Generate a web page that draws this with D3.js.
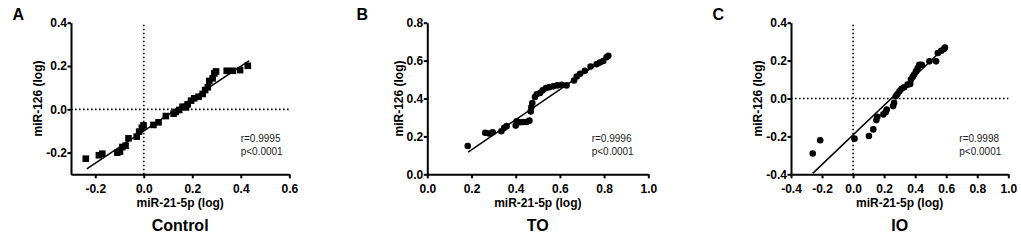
<!DOCTYPE html>
<html>
<head>
<meta charset="utf-8">
<script src="https://cdn.jsdelivr.net/npm/d3@7"></script>
<style>
  body { margin: 0; background: #fff; }
  text { font-family: Arial, "Liberation Sans", sans-serif; }
</style>
</head>
<body>
<div id="chart"></div>
<script>
/* DATA */
// Control (squares)
const controlX = [-0.239, -0.185, -0.171, -0.109, -0.098, -0.088, -0.075, -0.063, -0.029, -0.019, -0.008, -0.001,
  0.040, 0.061, 0.091, 0.123, 0.132, 0.146, 0.160, 0.174, 0.181, 0.195, 0.208, 0.226, 0.243, 0.253, 0.264,
  0.270, 0.284, 0.291, 0.298, 0.342, 0.367, 0.397, 0.429];
const controlY = [-0.228, -0.212, -0.205, -0.200, -0.195, -0.174, -0.168, -0.134, -0.126, -0.103, -0.085, -0.074,
  -0.072, -0.060, -0.031, -0.020, -0.012, -0.003, 0.012, 0.009, 0.023, 0.040, 0.051, 0.058, 0.071, 0.089, 0.102,
  0.131, 0.143, 0.166, 0.175, 0.178, 0.178, 0.181, 0.201];
const controlFit = [[-0.235, -0.275], [0.435, 0.225]];

// TO (circles)
const toX = [0.183, 0.262, 0.279, 0.296, 0.335, 0.348, 0.359, 0.400, 0.404, 0.419, 0.434, 0.449, 0.462, 0.468,
  0.471, 0.475, 0.487, 0.495, 0.510, 0.522, 0.537, 0.552, 0.570, 0.588, 0.608, 0.630, 0.664, 0.676, 0.691,
  0.713, 0.739, 0.766, 0.781, 0.796, 0.811, 0.819];
const toY = [0.149, 0.219, 0.215, 0.222, 0.227, 0.245, 0.254, 0.257, 0.280, 0.275, 0.276, 0.276, 0.283, 0.332,
  0.355, 0.376, 0.408, 0.422, 0.429, 0.443, 0.455, 0.460, 0.464, 0.469, 0.472, 0.469, 0.495, 0.516, 0.530,
  0.546, 0.569, 0.581, 0.590, 0.598, 0.618, 0.625];
const toFit = [[0.185, 0.117], [0.824, 0.626]];

// IO (circles)
const ioX = [-0.260, -0.212, 0.009, 0.102, 0.130, 0.150, 0.156, 0.195, 0.210, 0.217, 0.258, 0.264, 0.275, 0.286,
  0.299, 0.312, 0.329, 0.351, 0.368, 0.373, 0.384, 0.394, 0.405, 0.416, 0.427, 0.442, 0.492, 0.535, 0.546,
  0.568, 0.585, 0.592];
const ioY = [-0.290, -0.220, -0.212, -0.198, -0.163, -0.114, -0.096, -0.084, -0.072, -0.058, -0.040, -0.023,
  0.012, 0.024, 0.038, 0.051, 0.059, 0.073, 0.077, 0.100, 0.114, 0.126, 0.143, 0.161, 0.178, 0.178, 0.196,
  0.196, 0.240, 0.252, 0.261, 0.269];
const ioFit = [[-0.26, -0.395], [0.56, 0.245]];

// axes
const controlXTicks = [-0.2, 0, 0.2, 0.4, 0.6];
const controlYTicks = [-0.2, 0, 0.2, 0.4];
const toXTicks = [0, 0.2, 0.4, 0.6, 0.8, 1.0];
const toYTicks = [0, 0.2, 0.4, 0.6, 0.8];
const ioXTicks = [-0.4, -0.2, 0, 0.2, 0.4, 0.6, 0.8, 1.0];
const ioYTicks = [-0.4, -0.2, 0, 0.2, 0.4];

const panelLetters = ["A", "B", "C"];
const groupNames = ["Control", "TO", "IO"];
const rValues = ["r=0.9995", "r=0.9996", "r=0.9998"];
const pValues = ["p<0.0001", "p<0.0001", "p<0.0001"];
const xTitle = "miR-21-5p (log)";
const yTitle = "miR-126 (log)";

/* LAYOUT */
const width = 1021, height = 240;
const plotTop = 22.7, plotBottom = 174.3;

const panels = [
  { x: controlX, y: controlY, fit: controlFit, xDomain: [-0.3, 0.6], yDomain: [-0.3, 0.4],
    xTicks: controlXTicks, yTicks: controlYTicks, left: 71, right: 289.3, shape: "square",
    letterX: 12.5, yTitleX: 42, statX: 240.7, zeroLines: true },
  { x: toX, y: toY, fit: toFit, xDomain: [0, 1], yDomain: [0, 0.8],
    xTicks: toXTicks, yTicks: toYTicks, left: 427.3, right: 648.3, shape: "circle",
    letterX: 356.5, yTitleX: 403, statX: 591.7, zeroLines: false },
  { x: ioX, y: ioY, fit: ioFit, xDomain: [-0.4, 1], yDomain: [-0.4, 0.4],
    xTicks: ioXTicks, yTicks: ioYTicks, left: 791, right: 1008.3, shape: "circle",
    letterX: 712.5, yTitleX: 762, statX: 959.3, zeroLines: true }
];

const svg = d3.select("#chart")
  .append("svg")
  .attr("width", width)
  .attr("height", height);

panels.forEach((p, i) => drawPanel(p, i));

function drawPanel(p, i) {
  const xScale = d3.scaleLinear().domain(p.xDomain).range([p.left, p.right]);
  const yScale = d3.scaleLinear().domain(p.yDomain).range([plotBottom, plotTop]);
  const g = svg.append("g");

  // dotted zero lines
  if (p.zeroLines) {
    g.append("line")
      .attr("x1", xScale(p.xDomain[0])).attr("x2", xScale(p.xDomain[1]))
      .attr("y1", yScale(0)).attr("y2", yScale(0))
      .attr("stroke", "#000").attr("stroke-width", 1.6).attr("stroke-dasharray", "1.6,2.4");
    g.append("line")
      .attr("x1", xScale(0)).attr("x2", xScale(0))
      .attr("y1", yScale(p.yDomain[0])).attr("y2", yScale(p.yDomain[1]))
      .attr("stroke", "#000").attr("stroke-width", 1.6).attr("stroke-dasharray", "1.6,2.4");
  }

  // regression line
  g.append("path")
    .datum(p.fit)
    .attr("fill", "none")
    .attr("stroke", "#000")
    .attr("stroke-width", 1.5)
    .attr("d", d3.line().x(d => xScale(d[0])).y(d => yScale(d[1])));

  // points
  const pts = p.x.map((v, k) => ({ x: v, y: p.y[k] }));
  if (p.shape === "square") {
    g.selectAll("rect.pt")
      .data(pts)
      .join("rect")
      .attr("class", "pt")
      .attr("x", d => xScale(d.x) - 3.3)
      .attr("y", d => yScale(d.y) - 3.3)
      .attr("width", 6.6)
      .attr("height", 6.6)
      .attr("fill", "#000");
  } else {
    g.selectAll("circle.pt")
      .data(pts)
      .join("circle")
      .attr("class", "pt")
      .attr("cx", d => xScale(d.x))
      .attr("cy", d => yScale(d.y))
      .attr("r", 3.3)
      .attr("fill", "#000");
  }

  // axes
  const fmt = d => d.toFixed(1);
  const xAxis = g.append("g")
    .attr("transform", `translate(0,${plotBottom})`)
    .call(d3.axisBottom(xScale).tickValues(p.xTicks).tickFormat(fmt).tickSize(4).tickSizeOuter(0).tickPadding(6));
  const yAxis = g.append("g")
    .attr("transform", `translate(${p.left},0)`)
    .call(d3.axisLeft(yScale).tickValues(p.yTicks).tickFormat(fmt).tickSize(3.5).tickSizeOuter(0).tickPadding(0.5));
  [xAxis, yAxis].forEach(a => {
    a.select(".domain").attr("stroke-width", 2);
    a.selectAll(".tick line").attr("stroke-width", 2);
    a.selectAll(".tick text")
      .attr("font-size", 12).attr("font-weight", "bold")
      .attr("font-family", "Arial, 'Liberation Sans', sans-serif")
      .attr("fill", "#000");
  });

  // titles
  const cx = (p.left + p.right) / 2;
  g.append("text")
    .attr("x", cx).attr("y", 207)
    .attr("text-anchor", "middle")
    .attr("font-size", 12).attr("font-weight", "bold")
    .text(xTitle);
  g.append("text")
    .attr("transform", `translate(${p.yTitleX},${(plotTop + plotBottom) / 2}) rotate(-90)`)
    .attr("text-anchor", "middle")
    .attr("font-size", 12).attr("font-weight", "bold")
    .text(yTitle);
  g.append("text")
    .attr("x", cx).attr("y", 230.5)
    .attr("text-anchor", "middle")
    .attr("font-size", 16).attr("font-weight", "bold")
    .text(groupNames[i]);
  g.append("text")
    .attr("x", p.letterX).attr("y", 20)
    .attr("font-size", 16).attr("font-weight", "bold")
    .text(panelLetters[i]);

  // stats
  g.append("text")
    .attr("x", p.statX).attr("y", 141.5)
    .attr("font-size", 10).attr("fill", "#222")
    .text(rValues[i]);
  g.append("text")
    .attr("x", p.statX).attr("y", 155)
    .attr("font-size", 10).attr("fill", "#222")
    .text(pValues[i]);
}
</script>
</body>
</html>
